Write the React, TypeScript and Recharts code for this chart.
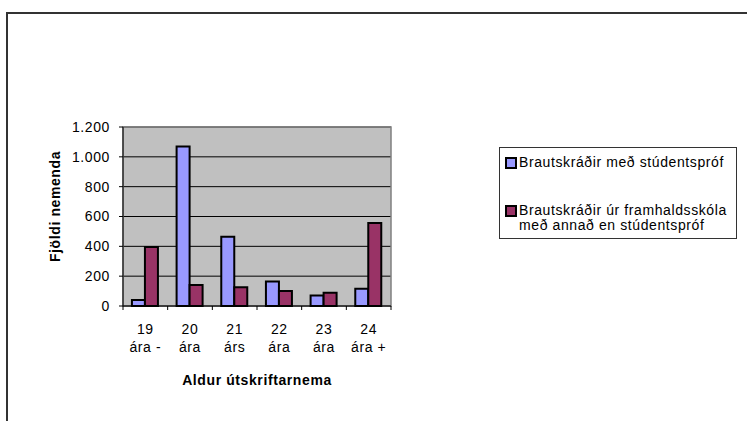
import {
  BarChart,
  Bar,
  XAxis,
  YAxis,
  CartesianGrid,
  Legend,
  ReferenceArea,
} from 'recharts';

const ageGroups = ['19 ára -', '20 ára', '21 árs', '22 ára', '23 ára', '24 ára +'];
const withMatric = [40, 1070, 465, 165, 70, 115];
const otherDiploma = [395, 140, 125, 100, 88, 557];
const yTicks = [0, 200, 400, 600, 800, 1000, 1200];

const seriesNames = [
  'Brautskráðir með stúdentspróf',
  'Brautskráðir úr framhaldsskóla með annað en stúdentspróf',
];

const data = ageGroups.map((age, i) => ({
  age,
  matric: withMatric[i],
  other: otherDiploma[i],
}));

const CHART_W = 747;
const CHART_H = 421;
const PLOT_LEFT = 123;
const PLOT_RIGHT = 391;
const PLOT_TOP = 127;
const PLOT_BOTTOM = 306;
const band = (PLOT_RIGHT - PLOT_LEFT) / ageGroups.length;
const font = 'Arial, "Liberation Sans", sans-serif';
const FS = 14;
const LS = 0.6;

const formatThousands = (v: number) =>
  v >= 1000 ? `${Math.floor(v / 1000)}.${String(v % 1000).padStart(3, '0')}` : String(v);

function CategoryTick(props: any) {
  const { x, y, payload, index } = props;
  const [num, ...rest] = String(payload.value).split(' ');
  const last = index === ageGroups.length - 1;
  return (
    <g>
      <line x1={x - band / 2} x2={x - band / 2} y1={y} y2={y + 4} stroke="#000" />
      {last && <line x1={x + band / 2} x2={x + band / 2} y1={y} y2={y + 4} stroke="#000" />}
      <text x={x} y={y + 28} textAnchor="middle" fontSize={FS} letterSpacing={LS} fontFamily={font} fill="#000">
        {num}
      </text>
      <text x={x} y={y + 46} textAnchor="middle" fontSize={FS} letterSpacing={LS} fontFamily={font} fill="#000">
        {rest.join(' ')}
      </text>
    </g>
  );
}

function LegendBox(props: any) {
  const items = props.payload || [];
  return (
    <div
      style={{
        width: 236,
        height: 90,
        border: '1px solid #333',
        fontFamily: font,
        fontSize: FS,
        letterSpacing: LS,
        lineHeight: '15px',
        color: '#000',
        boxSizing: 'content-box',
      }}
    >
      {items.map((item: any, i: number) => (
        <div
          key={item.value}
          style={{ display: 'flex', alignItems: 'flex-start', marginLeft: 5, marginTop: i === 0 ? 7 : 33 }}
        >
          <span
            style={{
              width: 8,
              height: 8,
              background: item.color,
              border: '2px solid #000',
              marginTop: 2,
              marginRight: 2,
              flex: 'none',
            }}
          />
          <span style={{ width: 218 }}>{item.value}</span>
        </div>
      ))}
    </div>
  );
}

export default function App() {
  return (
    <div
      style={{
        position: 'absolute',
        left: 0,
        top: 0,
        width: CHART_W,
        height: CHART_H,
        overflow: 'hidden',
        background: '#fff',
      }}
    >
      <div
        style={{
          position: 'absolute',
          left: 6,
          top: 12,
          width: 900,
          height: 600,
          border: '2px solid #333',
        }}
      />
      <BarChart
        width={CHART_W}
        height={CHART_H}
        data={data}
        margin={{ top: PLOT_TOP, right: CHART_W - PLOT_RIGHT, bottom: 15, left: 0 }}
        barCategoryGap="20%"
        barGap={0}
      >
        <CartesianGrid horizontal vertical={false} stroke="#000" fill="#c0c0c0" fillOpacity={1} />
        <ReferenceArea y1={0} y2={1200} fill="none" stroke="#808080" strokeWidth={1.5} />
        <XAxis
          dataKey="age"
          height={CHART_H - PLOT_BOTTOM - 15}
          axisLine={{ stroke: '#000' }}
          tickLine={false}
          tickSize={0}
          tickMargin={0}
          interval={0}
          tick={<CategoryTick />}
          label={{
            content: (p: any) => (
              <text
                x={p.viewBox.x + p.viewBox.width / 2}
                y={p.viewBox.y + 79}
                textAnchor="middle"
                fontSize={FS}
                letterSpacing={LS}
                fontWeight="bold"
                fontFamily={font}
                fill="#000"
              >
                Aldur útskriftarnema
              </text>
            ),
          }}
        />
        <YAxis
          width={PLOT_LEFT}
          domain={[0, 1200]}
          ticks={yTicks}
          interval={0}
          tickSize={4}
          tickMargin={9}
          tickFormatter={formatThousands}
          axisLine={{ stroke: '#000' }}
          tickLine={{ stroke: '#000' }}
          tick={{ fontSize: FS, letterSpacing: LS, fontFamily: font, fill: '#000' }}
          label={{
            content: (p: any) => (
              <text
                x={55}
                y={p.viewBox.y + p.viewBox.height / 2 - 10}
                transform={`rotate(-90, 55, ${p.viewBox.y + p.viewBox.height / 2 - 10})`}
                textAnchor="middle"
                dominantBaseline="central"
                fontSize={FS}
                letterSpacing={LS}
                fontWeight="bold"
                fontFamily={font}
                fill="#000"
              >
                Fjöldi nemenda
              </text>
            ),
          }}
        />
        <Legend
          layout="vertical"
          align="center"
          verticalAlign="middle"
          wrapperStyle={{ left: 499, top: 147, width: 238, height: 92 }}
          content={<LegendBox />}
        />
        <Bar
          dataKey="matric"
          name={seriesNames[0]}
          fill="#9999ff"
          stroke="#000"
          strokeWidth={2}
          isAnimationActive={false}
        />
        <Bar
          dataKey="other"
          name={seriesNames[1]}
          fill="#993366"
          stroke="#000"
          strokeWidth={2}
          isAnimationActive={false}
        />
      </BarChart>
    </div>
  );
}
